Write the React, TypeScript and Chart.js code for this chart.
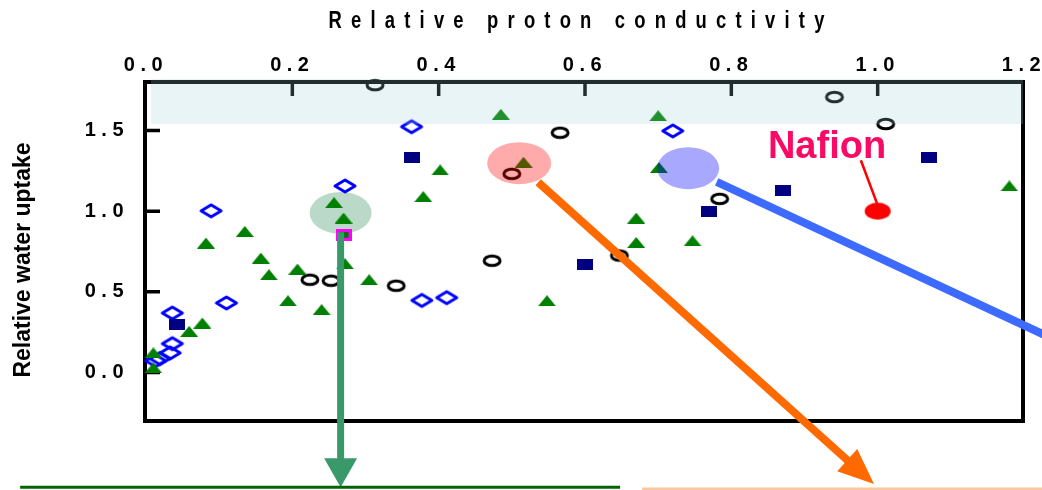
import React, { useEffect, useRef } from 'react';
import { Chart, registerables } from 'chart.js';

Chart.register(...registerables);

// ---- axis ticks ----
const xTickValues = [0, 0.2, 0.4, 0.6, 0.8, 1.0, 1.2];
const xTickLabels = ['0.0', '0.2', '0.4', '0.6', '0.8', '1.0', '1.2'];
const yTickValues = [0, 0.5, 1.0, 1.5];
const yTickLabels = ['0.0', '0.5', '1.0', '1.5'];

// ---- titles / labels ----
const xTitle = 'Relative proton conductivity';
const yTitle = 'Relative water uptake';
const nafionLabel = 'Nafion';

// ---- series: open circles ----
const circleX = [0.313, 0.941, 1.011, 0.566, 0.5, 0.784, 0.647, 0.473, 0.224, 0.253, 0.342];
const circleY = [1.781, 1.707, 1.54, 1.486, 1.231, 1.076, 0.725, 0.693, 0.575, 0.569, 0.538];

// ---- series: open diamonds ----
const diamondX = [0.363, 0.72, 0.272, 0.089, 0.11, 0.377, 0.411, 0.036, 0.036, 0.033, 0.019, 0.013];
const diamondY = [1.523, 1.497, 1.156, 1.002, 0.431, 0.447, 0.464, 0.369, 0.179, 0.122, 0.087, 0.074];

// ---- series: filled triangles ----
const triangleX = [0.485, 0.7, 0.516, 0.402, 0.701, 1.18, 0.379, 0.257, 0.27, 0.67, 0.135, 0.082, 0.67, 0.747,
  0.157, 0.272, 0.207, 0.168, 0.305, 0.194, 0.548, 0.24, 0.077, 0.059, 0.01, 0.01];
const triangleY = [1.6, 1.591, 1.303, 1.255, 1.27, 1.156, 1.09, 1.053, 0.957, 0.957, 0.874, 0.802, 0.806, 0.816,
  0.709, 0.674, 0.641, 0.606, 0.575, 0.445, 0.445, 0.39, 0.307, 0.255, 0.122, 0.029];

// ---- series: filled squares ----
const squareX = [0.364, 1.07, 0.87, 0.77, 0.6, 0.042];
const squareY = [1.331, 1.33, 1.127, 0.998, 0.672, 0.297];

// ---- series: highlighted square ----
const magentaX = [0.27];
const magentaY = [0.853];

// ---- series: Nafion reference ----
const nafionX = [1.0];
const nafionY = [1.0];

// ---- highlight ellipse centres (data units) ----
const greenSpotX = 0.266, greenSpotY = 0.989;
const pinkSpotX = 0.51, pinkSpotY = 1.297;
const blueSpotX = 0.741, blueSpotY = 1.266;

// ---- arrows (data units) ----
const greenArrow = [0.266, 0.87, 0.266, -0.71];
const orangeArrow = [0.536, 1.179, 0.995, -0.691];
const blueLine = [0.78, 1.181, 1.25, 0.187];
const nafionLeader = [0.977, 1.315, 0.999, 1.049];
const nafionTextPos = [0.85, 1.33];
const bandFrom = 1.54;
const greenBase = [-0.172, 0.648, -0.71];
const orangeBase = [0.678, 1.3, -0.722];

const FONT = '"Liberation Sans", Arial, sans-serif';

function mk(w: number, h: number, draw: (g: CanvasRenderingContext2D) => void) {
  const c = document.createElement('canvas');
  c.width = w;
  c.height = h;
  const g = c.getContext('2d')!;
  draw(g);
  return c;
}

const pts = (xs: number[], ys: number[]) => xs.map((x, i) => ({ x, y: ys[i] }));

export default function App() {
  const ref = useRef<HTMLCanvasElement>(null);

  useEffect(() => {
    document.body.style.margin = '0';
    const canvas = ref.current!;

    const circleImg = mk(22, 16, (g) => {
      g.lineWidth = 3; g.strokeStyle = '#000';
      g.beginPath(); g.ellipse(11, 8, 8, 4.8, 0, 0, Math.PI * 2); g.stroke();
    });
    const diamondImg = mk(26, 18, (g) => {
      g.lineWidth = 3; g.strokeStyle = '#0000ff'; g.lineJoin = 'round';
      g.beginPath(); g.moveTo(13, 3); g.lineTo(23, 9); g.lineTo(13, 15); g.lineTo(3, 9); g.closePath(); g.stroke();
    });
    const triImg = mk(18, 11, (g) => {
      g.fillStyle = '#008000';
      g.beginPath(); g.moveTo(9, 0); g.lineTo(18, 11); g.lineTo(0, 11); g.closePath(); g.fill();
    });
    const sqImg = mk(16, 11, (g) => { g.fillStyle = '#000080'; g.fillRect(0, 0, 16, 11); });
    const magImg = mk(16, 12, (g) => {
      g.fillStyle = '#0a6e0a'; g.fillRect(0, 0, 16, 12);
      g.strokeStyle = '#ff00ff'; g.lineWidth = 3; g.strokeRect(1.5, 1.5, 13, 9);
    });
    const nafImg = mk(28, 19, (g) => {
      g.fillStyle = '#ff0000'; g.beginPath(); g.ellipse(14, 9.5, 13, 8.5, 0, 0, Math.PI * 2); g.fill();
    });

    const ds = (data: any, img: any) => ({
      data, pointStyle: img, pointRadius: 5, pointHoverRadius: 5, showLine: false, clip: false as any,
    });

    const ellipse = (ctx: CanvasRenderingContext2D, cx: number, cy: number, rx: number, ry: number, col: string) => {
      ctx.save(); ctx.fillStyle = col; ctx.beginPath(); ctx.ellipse(cx, cy, rx, ry, 0, 0, Math.PI * 2); ctx.fill(); ctx.restore();
    };
    const arrow = (ctx: CanvasRenderingContext2D, x1: number, y1: number, x2: number, y2: number, w: number, col: string, hl: number, hw: number) => {
      const dx = x2 - x1, dy = y2 - y1, L = Math.hypot(dx, dy);
      const ux = dx / L, uy = dy / L;
      const bx = x2 - ux * hl, by = y2 - uy * hl;
      ctx.save();
      ctx.strokeStyle = col; ctx.lineWidth = w; ctx.lineCap = 'butt';
      ctx.beginPath(); ctx.moveTo(x1, y1); ctx.lineTo(hl > 0 ? bx + ux * 2 : x2, hl > 0 ? by + uy * 2 : y2); ctx.stroke();
      if (hl > 0) {
        ctx.fillStyle = col;
        ctx.beginPath(); ctx.moveTo(x2, y2); ctx.lineTo(bx - uy * hw, by + ux * hw); ctx.lineTo(bx + uy * hw, by - ux * hw); ctx.closePath(); ctx.fill();
      }
      ctx.restore();
    };

    const annot = {
      id: 'annot',
      beforeDraw(chart: any) {
        chart.ctx.letterSpacing = '5.5px';
      },
      beforeDatasetsDraw(chart: any) {
        const ctx = chart.ctx as CanvasRenderingContext2D;
        ctx.letterSpacing = '0px';
        const xs = chart.scales.x, ys = chart.scales.y, a = chart.chartArea;
        ellipse(ctx, xs.getPixelForValue(greenSpotX), ys.getPixelForValue(greenSpotY), 31, 21, 'rgba(46,139,87,0.33)');
        ctx.save();
        ctx.strokeStyle = '#000'; ctx.lineWidth = 4;
        ctx.strokeRect(a.left - 1, a.top, a.right - a.left, a.bottom - a.top);
        ctx.lineWidth = 3.5;
        ctx.beginPath();
        xTickValues.forEach((v) => {
          if (v === 0 || v === 1.2) return;
          const px = xs.getPixelForValue(v);
          ctx.moveTo(px, a.top); ctx.lineTo(px, a.top + 14);
        });
        yTickValues.forEach((v) => {
          const py = ys.getPixelForValue(v);
          ctx.moveTo(a.left - 1, py); ctx.lineTo(a.left + 14, py);
        });
        ctx.stroke();
        ctx.restore();
      },
      afterDatasetsDraw(chart: any) {
        const ctx = chart.ctx as CanvasRenderingContext2D;
        const xs = chart.scales.x, ys = chart.scales.y, a = chart.chartArea;
        const X = (v: number) => xs.getPixelForValue(v);
        const Y = (v: number) => ys.getPixelForValue(v);
        ctx.save();
        ctx.fillStyle = 'rgba(150,205,215,0.22)';
        ctx.fillRect(a.left + 5, a.top - 3, a.right - a.left - 6, Y(bandFrom) - a.top + 3);
        ctx.restore();
        ellipse(ctx, X(pinkSpotX), Y(pinkSpotY), 32, 21, 'rgba(255,0,0,0.33)');
        ellipse(ctx, X(blueSpotX), Y(blueSpotY), 31, 21, 'rgba(0,0,255,0.34)');
        arrow(ctx, X(greenArrow[0]), Y(greenArrow[1]), X(greenArrow[2]), Y(greenArrow[3]), 7, '#3a996a', 29, 16.5);
        arrow(ctx, X(orangeArrow[0]), Y(orangeArrow[1]), X(orangeArrow[2]), Y(orangeArrow[3]), 8, '#ff6a00', 36, 15);
        arrow(ctx, X(blueLine[0]), Y(blueLine[1]), X(blueLine[2]), Y(blueLine[3]), 8, '#3d6bff', 0, 0);
        arrow(ctx, X(nafionLeader[0]), Y(nafionLeader[1]), X(nafionLeader[2]), Y(nafionLeader[3]), 2.5, '#ff0000', 0, 0);
        ctx.save();
        ctx.font = `bold 38px ${FONT}`;
        ctx.fillStyle = '#fa0a64';
        ctx.textAlign = 'left'; ctx.textBaseline = 'alphabetic';
        ctx.fillText(nafionLabel, X(nafionTextPos[0]), Y(nafionTextPos[1]));
        ctx.restore();
        ctx.save();
        ctx.lineWidth = 3;
        ctx.strokeStyle = '#006400';
        ctx.beginPath(); ctx.moveTo(X(greenBase[0]), Y(greenBase[2])); ctx.lineTo(X(greenBase[1]), Y(greenBase[2])); ctx.stroke();
        ctx.strokeStyle = '#fbc89e';
        ctx.beginPath(); ctx.moveTo(X(orangeBase[0]), Y(orangeBase[2])); ctx.lineTo(X(orangeBase[1]), Y(orangeBase[2])); ctx.stroke();
        ctx.restore();
      },
      afterDraw(chart: any) {
        const ctx = chart.ctx as CanvasRenderingContext2D;
        const a = chart.chartArea;
        ctx.save();
        ctx.fillStyle = '#000';
        ctx.font = `bold 23px ${FONT}`;
        ctx.letterSpacing = '11.5px';
        ctx.textAlign = 'center'; ctx.textBaseline = 'alphabetic';
        ctx.translate((a.left + a.right) / 2 - 8.5 + 4.6, 28);
        ctx.scale(0.8, 1);
        ctx.fillText(xTitle, 0, 0);
        ctx.restore();
        ctx.save();
        ctx.fillStyle = '#000';
        ctx.font = `bold 23px ${FONT}`;
        ctx.letterSpacing = '0px';
        ctx.textAlign = 'center'; ctx.textBaseline = 'alphabetic';
        ctx.translate(30, 260);
        ctx.rotate(-Math.PI / 2);
        ctx.fillText(yTitle, 0, 0);
        ctx.restore();
      },
    };

    const chart = new Chart(canvas, {
      type: 'scatter',
      data: {
        datasets: [
          ds(pts(triangleX, triangleY), triImg),
          ds(pts(squareX, squareY), sqImg),
          ds(pts(magentaX, magentaY), magImg),
          ds(pts(nafionX, nafionY), nafImg),
          ds(pts(circleX, circleY), circleImg),
          ds(pts(diamondX, diamondY), diamondImg),
        ] as any,
      },
      options: {
        animation: false,
        responsive: false,
        events: [],
        layout: { padding: { left: 0, top: 0, right: 18, bottom: 69 } },
        plugins: { legend: { display: false }, tooltip: { enabled: false }, title: { display: false } },
        scales: {
          x: {
            type: 'linear', position: 'top', min: 0, max: 1.2,
            grid: { display: false, drawTicks: false }, border: { display: false },
            ticks: {
              padding: 4.5, color: '#000', autoSkip: false, maxRotation: 0, minRotation: 0,
              font: { family: FONT, size: 20, weight: 'bold' },
              callback: (_v: any, i: number) => xTickLabels[i],
            },
            afterBuildTicks: (s: any) => { s.ticks = xTickValues.map((v) => ({ value: v })); },
            afterFit: (s: any) => { s.height = 82; s.paddingLeft = 0; s.paddingRight = 0; },
          },
          y: {
            type: 'linear', position: 'left', min: -0.3, max: 1.8,
            grid: { display: false, drawTicks: false }, border: { display: false },
            ticks: {
              padding: 17, color: '#000', autoSkip: false,
              font: { family: FONT, size: 20, weight: 'bold' },
              callback: (_v: any, i: number) => yTickLabels[i],
            },
            afterBuildTicks: (s: any) => { s.ticks = yTickValues.map((v) => ({ value: v })); },
            afterFit: (s: any) => { s.width = 146; s.paddingTop = 0; s.paddingBottom = 0; },
          },
        },
      } as any,
      plugins: [annot as any],
    });
    return () => chart.destroy();
  }, []);

  return (
    <div style={{ position: 'absolute', left: 0, top: 0, width: 1042, height: 490 }}>
      <canvas ref={ref} width={1042} height={490} style={{ display: 'block' }} />
    </div>
  );
}
